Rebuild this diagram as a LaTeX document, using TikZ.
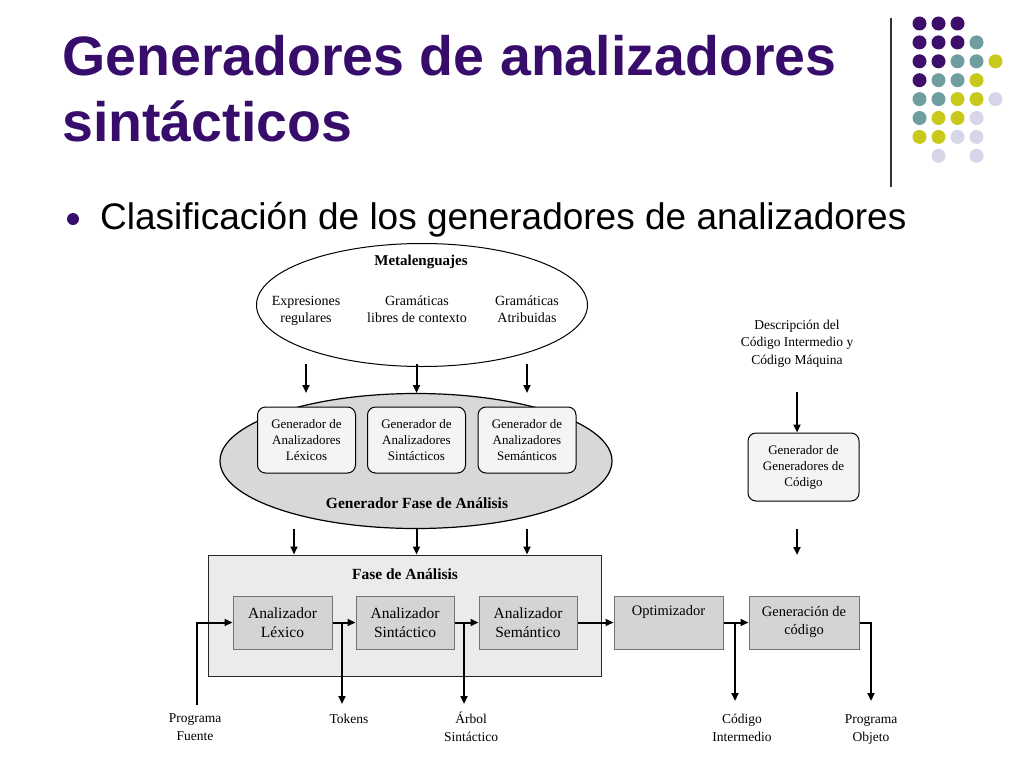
\documentclass[tikz,border=0pt]{standalone}
\usepackage{fontspec}
\setmainfont{Liberation Serif}
\newfontfamily\sansf{Liberation Sans}
\usetikzlibrary{shapes.geometric,arrows.meta,positioning}
\definecolor{titlepurple}{HTML}{380C6A}
\definecolor{dotP}{HTML}{3D0F6B}
\definecolor{dotT}{HTML}{6E9EA0}
\definecolor{dotY}{HTML}{C9C91C}
\definecolor{dotL}{HTML}{D6D6E8}
\definecolor{gellfill}{HTML}{D8D8D8}
\definecolor{fasefill}{HTML}{EBEBEB}
\definecolor{boxfill}{HTML}{D4D4D4}
\definecolor{lightbox}{HTML}{F4F4F4}
\tikzset{
  arr/.style={line width=2pt,-{Triangle[length=8pt,width=7pt]}},
  genbox/.style={draw=black,line width=1pt,rounded corners=8pt,fill=lightbox,align=center,
    font=\fontsize{13}{16}\selectfont,inner sep=0pt},
  anbox/.style={draw=black!55,line width=1pt,fill=boxfill,align=center,
    font=\fontsize{15.5}{19}\selectfont,inner sep=0pt,minimum height=53pt},
  lbl/.style={align=center,font=\fontsize{13.5}{18}\selectfont,inner sep=0pt},
  mlbl/.style={align=center,font=\fontsize{14}{17}\selectfont,inner sep=0pt},
  btitle/.style={font=\bfseries\fontsize{15.5}{18}\selectfont,inner sep=0pt},
  dot/.style={circle,minimum size=14pt,inner sep=0pt}
}
\begin{document}
\begin{tikzpicture}[x=1pt,y=-1pt]
\useasboundingbox[fill=white] (0,0) rectangle (1024,768);
% title
\node[anchor=base west,inner sep=0pt,text=titlepurple,font=\sansf\bfseries\fontsize{55.5}{62}\selectfont] (t1) at (62,75) {Generadores de analizadores};
\node[anchor=base west,inner sep=0pt,text=titlepurple,font=\sansf\bfseries\fontsize{55.5}{62}\selectfont] (t2) at (62,141) {sintácticos};
% bullet
\node[circle,fill=titlepurple,minimum size=12pt,inner sep=0pt] (bul) at (73,219) {};
\node[anchor=base west,inner sep=0pt,font=\sansf\fontsize{37}{44}\selectfont] (b1) at (100,229) {Clasificación de los generadores de analizadores};
% vertical rule
\coordinate (vr1) at (891,18);
\coordinate (vr2) at (891,187);
\draw[line width=1.2pt,black!80] (vr1) -- (vr2);
% dots
\foreach \c/\r/\col [count=\i] in {0/0/dotP,1/0/dotP,2/0/dotP,
  0/1/dotP,1/1/dotP,2/1/dotP,3/1/dotT,
  0/2/dotP,1/2/dotP,2/2/dotT,3/2/dotT,4/2/dotY,
  0/3/dotP,1/3/dotT,2/3/dotT,3/3/dotY,
  0/4/dotT,1/4/dotT,2/4/dotY,3/4/dotY,4/4/dotL,
  0/5/dotT,1/5/dotY,2/5/dotY,3/5/dotL,
  0/6/dotY,1/6/dotY,2/6/dotL,3/6/dotL,
  1/7/dotL,3/7/dotL}
  \node[dot,fill=\col] (d\i) at (919.5+19*\c,23.5+18.9*\r) {};

% ---------- Metalenguajes ellipse
\node[ellipse,draw=black,line width=1pt,fill=white,minimum width=331pt,minimum height=123pt,inner sep=0pt] (meta) at (422,305) {};
\node[btitle,font=\bfseries\fontsize{15}{17}\selectfont] (metat) at (421,262) {Metalenguajes};
\node[mlbl] (er) at (306,310.5) {Expresiones\\regulares};
\node[mlbl] (gl) at (417,309.5) {Gramáticas\\libres de contexto};
\node[mlbl] (ga) at (527,309.5) {Gramáticas\\Atribuidas};

% ---------- Generador fase de análisis ellipse
\node[ellipse,draw=black,line width=1.2pt,fill=gellfill,minimum width=392pt,minimum height=135pt,inner sep=0pt] (gen) at (416,461) {};
\node[genbox,minimum width=98pt,minimum height=66pt] (gal) at (306.5,440) {Generador de\\Analizadores\\Léxicos};
\node[genbox,minimum width=98pt,minimum height=66pt] (gas) at (416.5,440) {Generador de\\Analizadores\\Sintácticos};
\node[genbox,minimum width=98pt,minimum height=66pt] (gase) at (527,440) {Generador de\\Analizadores\\Semánticos};
\node[btitle] (gent) at (417,503) {Generador Fase de Análisis};

% arrows meta -> gen
\coordinate (m1) at (306,0);
\coordinate (m2) at (416.5,0);
\coordinate (m3) at (527,0);
\coordinate (mtop) at (0,364);
\coordinate (mbot) at (0,393);
\draw[arr] (m1 |- mtop) -- (m1 |- mbot);
\draw[arr] (m2 |- mtop) -- (m2 |- mbot);
\draw[arr] (m3 |- mtop) -- (m3 |- mbot);

% ---------- Fase de análisis
\node[draw=black!85,line width=1pt,fill=fasefill,minimum width=393pt,minimum height=121pt,inner sep=0pt] (fase) at (404.5,615.5) {};
\node[btitle] (faset) at (405,574) {Fase de Análisis};
\node[anbox,minimum width=99pt] (lex) at (282.5,622.5) {Analizador\\Léxico};
\node[anbox,minimum width=98pt] (sin) at (405,622.5) {Analizador\\Sintáctico};
\node[anbox,minimum width=98pt] (sem) at (528,622.5) {Analizador\\Semántico};

% arrows gen -> fase
\coordinate (g1) at (294,0);
\coordinate (g2) at (416.5,0);
\coordinate (g3) at (527,0);
\draw[arr] (g1 |- gen.south) -- (g1 |- fase.north);
\draw[arr] (g2 |- gen.south) -- (g2 |- fase.north);
\draw[arr] (g3 |- gen.south) -- (g3 |- fase.north);

% ---------- right side
\node[anbox,minimum width=109pt,font=\fontsize{14.5}{24}\selectfont] (opt) at (668.5,622.5) {Optimizador\\\mbox{}};
\node[anbox,minimum width=110pt,font=\fontsize{14.5}{18}\selectfont] (gcod) at (804,622.5) {Generación de\\código};
\node[genbox,minimum width=111pt,minimum height=68pt] (ggc) at (803.5,467) {Generador de\\Generadores de\\Código};
\node[lbl,font=\fontsize{13.5}{17.5}\selectfont] (desc) at (797,343.5) {Descripción del\\Código Intermedio y\\Código Máquina};
\coordinate (r1a) at (797,392);
\coordinate (r2a) at (797,529);
\coordinate (r2b) at (797,555);
\draw[arr] (r1a) -- (r1a |- ggc.north);
\draw[arr] (r2a) -- (r2b);

% ---------- flow
\node[lbl] (pf) at (195,727) {Programa\\Fuente};
\node[lbl] (tk) at (349,719) {Tokens};
\node[lbl] (as) at (471,727) {Árbol\\Sintáctico};
\node[lbl] (ci) at (742,727.5) {Código\\Intermedio};
\node[lbl] (po) at (871,729.5) {Programa\\Objeto};

\coordinate (pfc) at (197,705);
\coordinate (tkc) at (342,704);
\coordinate (asc) at (464,704);
\coordinate (cic) at (735,701);
\coordinate (poc) at (871,701);

\draw[arr] (pfc) |- (lex.west);
\draw[arr] (lex.east) -- (sin.west);
\draw[arr] (lex.east -| tkc) -- (tkc);
\draw[arr] (sin.east) -- (sem.west);
\draw[arr] (sin.east -| asc) -- (asc);
\draw[arr] (sem.east) -- (opt.west);
\draw[arr] (opt.east) -- (gcod.west);
\draw[arr] (opt.east -| cic) -- (cic);
\draw[arr] (gcod.east) -| (poc);
\end{tikzpicture}
\end{document}
